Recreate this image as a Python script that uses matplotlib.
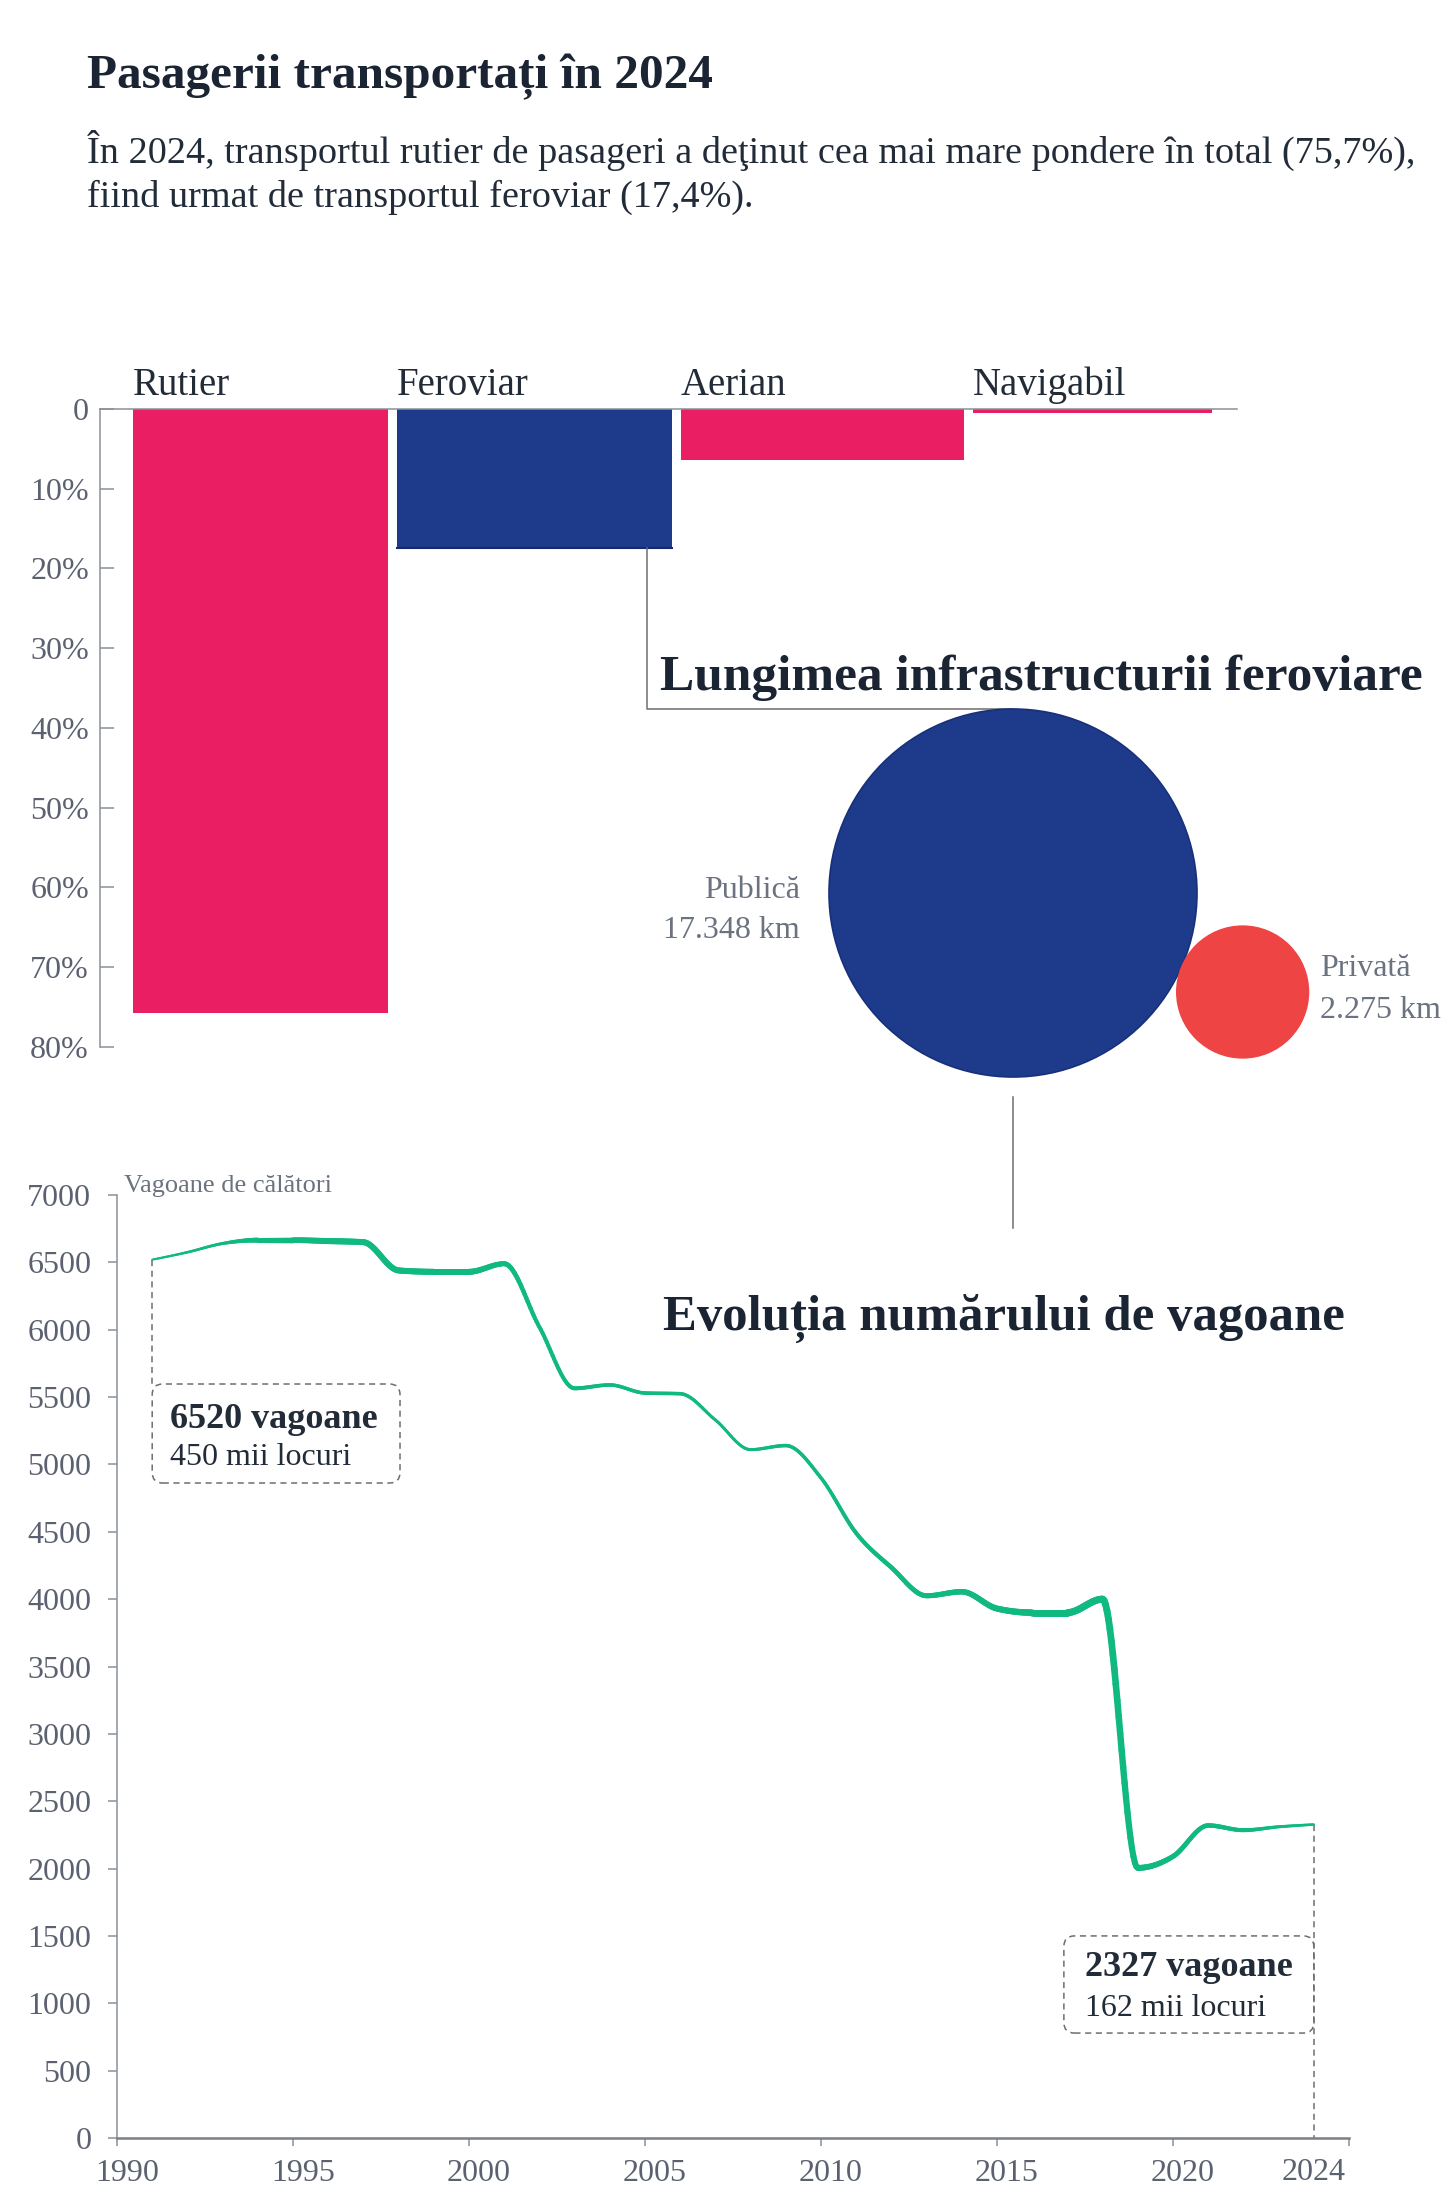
import numpy as np
import matplotlib
matplotlib.use('Agg')
import matplotlib.pyplot as plt
from matplotlib.collections import LineCollection
from matplotlib.patches import Circle, FancyBboxPatch
from matplotlib.transforms import ScaledTranslation

plt.rcParams['font.family'] = ['Liberation Serif', 'DejaVu Serif']

# Date - ponderea pasagerilor pe moduri de transport (2024)
moduri = ['Rutier', 'Feroviar', 'Aerian', 'Navigabil']
pondere = [75.7, 17.4, 6.4, 0.5]
culori_bare = ['#E91E63', '#1E3A8A', '#E91E63', '#E91E63']
pondere_ticks = [0, 10, 20, 30, 40, 50, 60, 70, 80]
pondere_labels = ['0', '10%', '20%', '30%', '40%', '50%', '60%', '70%', '80%']

# Date - lungimea infrastructurii feroviare
retea = ['Publică', 'Privată']
retea_km = [17348, 2275]
retea_text = ['17.348 km', '2.275 km']
culori_retea = ['#1E3A8A', '#EF4444']

# Date - vagoane de calatori
ani = list(range(1991, 2025))
vagoane = [6520, 6575, 6640, 6665, 6665, 6658, 6650, 6440, 6430, 6430,
           6490, 6020, 5565, 5590, 5530, 5525, 5330, 5110, 5140, 4900,
           4490, 4235, 4025, 4055, 3930, 3900, 3900, 4000, 2005, 2090,
           2320, 2285, 2310, 2327]
# grosimea liniei (px) pe ani
grosime = [2, 2.5, 3, 5, 5.5, 6, 6, 6, 6, 6,
           5, 4, 4, 3.5, 3.5, 3.5, 3, 3, 3.5, 3.5,
           4, 4.5, 5, 5.5, 6, 6.5, 7, 7, 6, 5,
           4.5, 4, 3, 2.5]
ani_ticks = [1990, 1995, 2000, 2005, 2010, 2015, 2020, 2025]
ani_labels = ['1990', '1995', '2000', '2005', '2010', '2015', '2020', '']
vagoane_ticks = list(range(0, 7001, 500))

# latimea barelor (px), ca in original
latimi = [255, 275, 283, 239]

DARK = '#1B2433'
TEXT = '#222B38'
GRAY = '#5B6170'
AXIS = '#8A8F99'
W, H = 1456, 2200


def rect(x0, y0, x1, y1):
    # pixeli (de sus) -> coordonate figura
    return [x0 / W, 1 - y1 / H, (x1 - x0) / W, (y1 - y0) / H]


def monoton(x, y, n=24):
    # curba monotona (tip d3 curveMonotoneX)
    x = np.asarray(x, float)
    y = np.asarray(y, float)
    h = np.diff(x)
    s = np.diff(y) / h
    t = np.zeros_like(y)
    for i in range(1, len(y) - 1):
        p = (s[i - 1] * h[i] + s[i] * h[i - 1]) / (h[i - 1] + h[i])
        t[i] = (np.sign(s[i - 1]) + np.sign(s[i])) * min(abs(s[i - 1]), abs(s[i]), 0.5 * abs(p))
    t[0] = (3 * s[0] - t[1]) / 2
    t[-1] = (3 * s[-1] - t[-2]) / 2
    xs, ys = [], []
    u = np.linspace(0, 1, n, endpoint=False)
    for i in range(len(h)):
        h00 = 2 * u**3 - 3 * u**2 + 1
        h10 = u**3 - 2 * u**2 + u
        h01 = -2 * u**3 + 3 * u**2
        h11 = u**3 - u**2
        xs.append(x[i] + u * h[i])
        ys.append(y[i] * h00 + h[i] * t[i] * h10 + y[i + 1] * h01 + h[i] * t[i + 1] * h11)
    xs.append([x[-1]])
    ys.append([y[-1]])
    return np.concatenate(xs), np.concatenate(ys)


fig = plt.figure(figsize=(W / 100, H / 100), dpi=100)
fig.patch.set_facecolor('white')

# ---------------- grafic cu bare ----------------
ax1 = fig.add_axes(rect(100, 409, 1237, 1047))
gap = 9
stanga = 33 + np.concatenate([[0], np.cumsum(np.array(latimi[:-1]) + gap)])
ax1.bar(stanga, pondere, width=latimi, align='edge', color=culori_bare, zorder=2)
ax1.set_ylim(80, 0)
ax1.set_xlim(0, 1137)
ax1.set_yticks(pondere_ticks)
ax1.set_yticklabels(pondere_labels)
ax1.set_xticks([])
for sp in ['bottom', 'right']:
    ax1.spines[sp].set_visible(False)
for sp in ['left', 'top']:
    ax1.spines[sp].set_color(AXIS)
    ax1.spines[sp].set_linewidth(1.1)
ax1.spines['top'].set_zorder(3)
ax1.tick_params(axis='y', direction='in', length=10, width=1.1, color=AXIS,
                labelsize=23, labelcolor=GRAY, pad=8)
for x0, m in zip(stanga, moduri):
    ax1.annotate(m, xy=(x0, 0), xytext=(0, 14), textcoords='offset pixels',
                 ha='left', va='baseline', fontsize=28, color=TEXT)
# muchia de jos a barei Feroviar
ax1.plot([stanga[1], stanga[1] + latimi[1]], [pondere[1], pondere[1]],
         color='#142A70', lw=1.5, zorder=3)

# ---------------- grafic cu linie ----------------
ax2 = fig.add_axes(rect(117, 1195, 1349, 2138))
ax2.set_xlim(1990, 2025)
ax2.set_ylim(0, 7000)
xs, ys = monoton(ani, vagoane)
pts = np.column_stack([xs, ys]).reshape(-1, 1, 2)
segs = np.concatenate([pts[:-1], pts[1:]], axis=1)
lw = np.interp((xs[:-1] + xs[1:]) / 2, ani, grosime) * 0.72
lc = LineCollection(segs, linewidths=lw, colors='#10B981', capstyle='round', zorder=3)
ax2.add_collection(lc)

ax2.set_yticks(vagoane_ticks)
ax2.set_xticks(ani_ticks)
ax2.set_xticklabels(ani_labels)
for sp in ['top', 'right']:
    ax2.spines[sp].set_visible(False)
ax2.spines['left'].set_color(AXIS)
ax2.spines['left'].set_linewidth(1.1)
ax2.spines['bottom'].set_color('#7A7F88')
ax2.spines['bottom'].set_linewidth(1.8)
ax2.tick_params(axis='y', direction='out', length=6.5, width=1.1, color=AXIS,
                labelsize=23, labelcolor=GRAY, pad=12)
ax2.tick_params(axis='x', direction='out', length=6, width=1.1, color=AXIS,
                labelsize=23, labelcolor=GRAY, pad=9)
for lbl in ax2.get_xticklabels():
    lbl.set_transform(lbl.get_transform() + ScaledTranslation(0.1, 0, fig.dpi_scale_trans))
ax2.annotate('2024', xy=(2024, 0), xytext=(0, -20), textcoords='offset pixels',
             ha='center', va='top', fontsize=23, color=GRAY)

# casete de adnotare
aspect = (1232 / 35) / (943 / 7000)
dash = (0, (4, 3))
ax2.plot([ani[0], ani[0]], [vagoane[0], 5597], color='#6E6E6E', lw=1.1, ls=dash, zorder=2)
ax2.add_patch(FancyBboxPatch((1991, 4862), 7.04, 735,
                             boxstyle='round,pad=0,rounding_size=0.3', mutation_aspect=aspect,
                             fc='none', ec='#6E6E6E', lw=1.1, ls=dash, zorder=2))
ax2.text(1991.5, 5330, f'{vagoane[0]} vagoane', fontsize=26, fontweight='bold',
         color=TEXT, va='center', ha='left')
ax2.text(1991.5, 5055, '450 mii locuri', fontsize=23, color=TEXT, va='center', ha='left')

ax2.plot([ani[-1], ani[-1]], [vagoane[-1], 0], color='#6E6E6E', lw=1.1, ls=dash, zorder=2)
ax2.add_patch(FancyBboxPatch((2016.9, 779), 7.1, 721,
                             boxstyle='round,pad=0,rounding_size=0.3', mutation_aspect=aspect,
                             fc='none', ec='#6E6E6E', lw=1.1, ls=dash, zorder=2))
ax2.text(2017.5, 1262, f'{vagoane[-1]} vagoane', fontsize=26, fontweight='bold',
         color=TEXT, va='center', ha='left')
ax2.text(2017.5, 965, '162 mii locuri', fontsize=23, color=TEXT, va='center', ha='left')

# ---------------- strat de suprapunere (pixeli) ----------------
ov = fig.add_axes([0, 0, 1, 1])
ov.set_xlim(0, W)
ov.set_ylim(H, 0)
ov.axis('off')
ov.patch.set_alpha(0)

ov.text(87, 88, 'Pasagerii transportați în 2024', fontsize=35.5, fontweight='bold',
        color=DARK, ha='left', va='baseline')
ov.text(87, 163, 'În 2024, transportul rutier de pasageri a deţinut cea mai mare pondere în total (75,7%),',
        fontsize=27.5, color=TEXT, ha='left', va='baseline')
ov.text(87, 207, 'fiind urmat de transportul feroviar (17,4%).',
        fontsize=27.5, color=TEXT, ha='left', va='baseline')

# cercuri - arie proportionala cu lungimea
escala = 184 / np.sqrt(max(retea_km))
r_pub = escala * np.sqrt(retea_km[0])
r_priv = escala * np.sqrt(retea_km[1])
cx, cy = 1013, 893
px, py = cx + r_pub + r_priv - 21, 992
ov.add_patch(Circle((cx, cy), r_pub, fc=culori_retea[0], ec='#16307A', lw=1.2, zorder=2))
ov.add_patch(Circle((px, py), r_priv, fc=culori_retea[1], ec='none', zorder=3))
ov.text(cx - r_pub - 29, 890, retea[0], fontsize=23, color='#6B7280', ha='right', va='center')
ov.text(cx - r_pub - 29, 930, retea_text[0], fontsize=23, color='#6B7280', ha='right', va='center')
ov.text(px + r_priv + 11, 968, retea[1], fontsize=23, color='#6B7280', ha='left', va='center')
ov.text(px + r_priv + 11, 1010, retea_text[1], fontsize=23, color='#6B7280', ha='left', va='center')

# linii de legatura
bar_bottom = 409 + pondere[1] * (1047 - 409) / 80
ov.plot([647, 647, cx], [bar_bottom, cy - r_pub, cy - r_pub], color='#6E6E6E', lw=1.1, zorder=1)
ov.plot([cx, cx], [cy + r_pub + 20, 1228], color='#6E6E6E', lw=1.1, zorder=1)

ov.text(660, 690, 'Lungimea infrastructurii feroviare', fontsize=37, fontweight='bold',
        color=DARK, ha='left', va='baseline')
ov.text(663, 1330, 'Evoluția numărului de vagoane', fontsize=36.5, fontweight='bold',
        color=DARK, ha='left', va='baseline')
ov.text(124, 1186, 'Vagoane de călători', fontsize=19, color='#6B7280', ha='left', va='center')

fig.savefig('out.png', dpi=100)
